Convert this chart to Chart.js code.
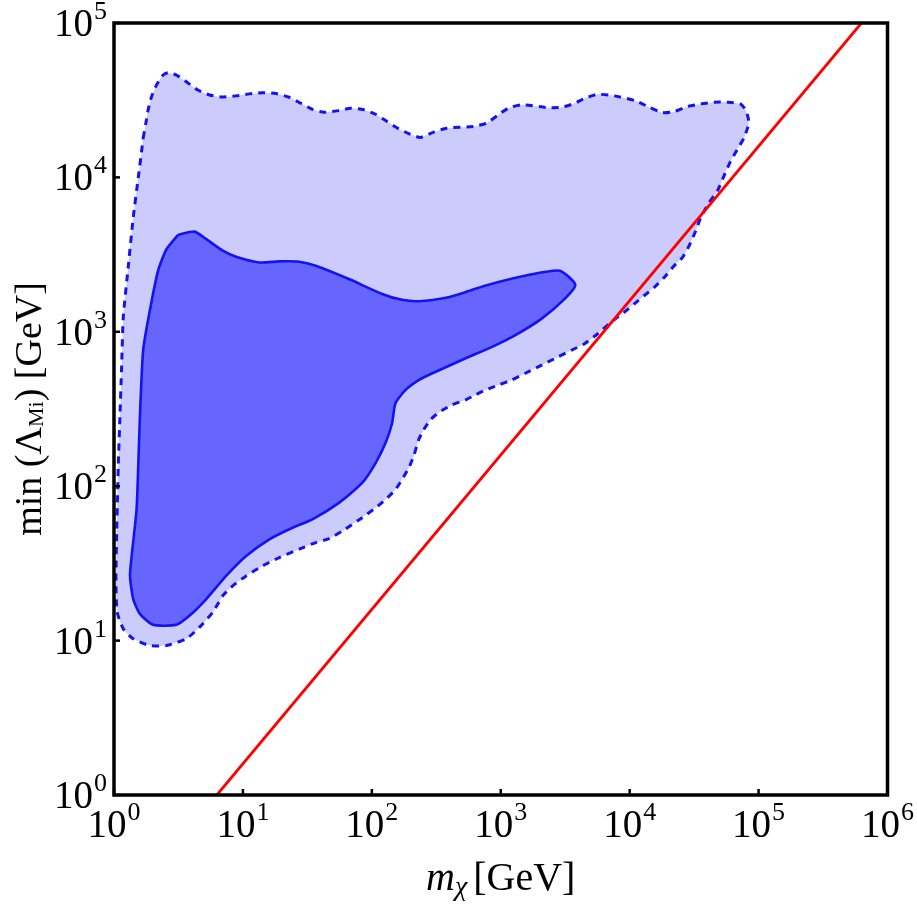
<!DOCTYPE html>
<html>
<head>
<meta charset="utf-8">
<script src="https://cdn.jsdelivr.net/npm/chart.js@4.4.1/dist/chart.umd.min.js"></script>
<style>
  html, body { margin: 0; padding: 0; background: #fff; }
  #wrap { width: 917px; height: 908px; }
</style>
</head>
<body>
<div id="wrap"><canvas id="chart"></canvas></div>
<script>
// Decade ticks (powers of ten) on each axis
const xTickPowers = [0, 1, 2, 3, 4, 5, 6];
const yTickPowers = [0, 1, 2, 3, 4, 5];

// Red line: Lambda = m / (2 pi), read at its two ends
const redMass = [6.28, 628000];
const redLambda = [1, 100000];

// Outer (95%) contour, log10 values
const outerLogMass = [
  0.226,0.247,0.265,0.291,0.330,0.381,0.419,0.484,0.561,0.651,
  0.741,0.844,0.947,1.050,1.153,1.256,1.359,1.449,1.539,1.629,
  1.745,1.836,1.938,2.029,2.118,2.208,2.286,2.376,2.479,2.581,
  2.788,2.890,2.981,3.058,3.161,3.367,3.470,3.573,3.650,3.753,
  3.882,4.049,4.152,4.255,4.345,4.448,4.551,4.654,4.757,4.859,
  4.906,4.924,4.886,4.834,4.782,4.731,4.680,4.615,4.551,4.512,
  4.461,4.409,4.345,4.268,4.191,4.114,4.036,3.959,3.856,3.753,
  3.650,3.547,3.444,3.290,3.187,3.083,2.981,2.878,2.801,2.724,
  2.620,2.517,2.453,2.402,2.363,2.324,2.286,2.234,2.183,2.106,
  2.029,1.925,1.771,1.668,1.565,1.436,1.282,1.153,1.025,0.921,
  0.844,0.767,0.664,0.561,0.407,0.278,0.149,0.072,0.025,0.015,
  0.021,0.033,0.046,0.059,0.072,0.110,0.149,0.188,0.214,0.226
];
const outerLogLambda = [
  4.255,4.351,4.438,4.523,4.599,4.663,4.678,4.663,4.620,4.566,
  4.534,4.521,4.528,4.541,4.549,4.543,4.519,4.480,4.441,4.422,
  4.433,4.448,4.438,4.409,4.362,4.315,4.284,4.259,4.293,4.319,
  4.330,4.351,4.405,4.448,4.470,4.452,4.454,4.480,4.512,4.538,
  4.528,4.495,4.454,4.420,4.427,4.459,4.476,4.487,4.487,4.476,
  4.427,4.351,4.255,4.180,4.104,4.008,3.911,3.836,3.739,3.653,
  3.557,3.481,3.428,3.352,3.288,3.235,3.181,3.127,3.063,2.988,
  2.923,2.880,2.837,2.773,2.730,2.687,2.655,2.622,2.590,2.558,
  2.526,2.476,2.429,2.365,2.300,2.193,2.118,2.043,1.978,1.914,
  1.860,1.796,1.709,1.660,1.635,1.592,1.538,1.484,1.419,1.355,
  1.291,1.184,1.087,1.012,0.968,0.968,1.012,1.076,1.184,1.377,
  1.699,2.128,2.450,2.773,3.095,3.417,3.739,3.997,4.169,4.255
];

// Inner (68%) contour, log10 values
const innerLogMass = [
  0.497,0.625,0.716,0.844,0.947,1.127,1.282,1.436,1.565,1.822,
  2.080,2.234,2.363,2.595,2.724,2.878,3.187,3.457,3.578,3.496,
  3.315,3.110,2.929,2.724,2.466,2.363,2.260,2.183,2.157,2.106,
  2.029,1.925,1.745,1.539,1.385,1.205,1.025,0.870,0.716,0.587,
  0.484,0.303,0.201,0.149,0.124,0.137,0.175,0.188,0.201,0.226,
  0.278,0.342,0.407,0.497
];
const innerLogLambda = [
  3.628,3.649,3.600,3.525,3.486,3.449,3.456,3.454,3.428,3.342,
  3.245,3.207,3.198,3.224,3.256,3.299,3.363,3.396,3.305,3.213,
  3.084,2.977,2.901,2.827,2.730,2.687,2.622,2.537,2.408,2.279,
  2.150,2.021,1.892,1.785,1.731,1.656,1.548,1.419,1.269,1.162,
  1.102,1.102,1.173,1.269,1.419,1.548,1.849,2.128,2.450,2.880,
  3.138,3.396,3.535,3.628
];

const toPoints = (xs, ys) => xs.map((v, i) => ({ x: v, y: ys[i] }));
const fromLog = (xs, ys) => xs.map((v, i) => ({ x: 10 ** v, y: 10 ** ys[i] }));

const serif = '"Liberation Serif", "Times New Roman", serif';

// "10" with a raised exponent
function drawPower(ctx, p, xPos, baseline, align) {
  ctx.font = `39px ${serif}`;
  const w1 = ctx.measureText("10").width;
  ctx.font = `26px ${serif}`;
  const w2 = ctx.measureText(String(p)).width;
  const total = w1 + w2 + 1;
  const start = align === "center" ? xPos - total / 2 : xPos - total;
  ctx.textAlign = "left";
  ctx.textBaseline = "alphabetic";
  ctx.font = `39px ${serif}`;
  ctx.fillText("10", start, baseline);
  ctx.font = `26px ${serif}`;
  ctx.fillText(String(p), start + w1 + 1, baseline - 17);
}

const framePlugin = {
  id: "frame",
  afterDraw(chart) {
    const { ctx, chartArea: a, scales: { x, y } } = chart;
    ctx.save();
    ctx.fillStyle = "#000";
    ctx.strokeStyle = "#000";

    // inward ticks + labels
    ctx.lineWidth = 2.5;
    xTickPowers.forEach(p => {
      const px = x.getPixelForValue(10 ** p);
      ctx.beginPath();
      ctx.moveTo(px, a.bottom);
      ctx.lineTo(px, a.bottom - 6);
      ctx.stroke();
      drawPower(ctx, p, px, a.bottom + 42, "center");
    });
    yTickPowers.forEach(p => {
      const py = y.getPixelForValue(10 ** p);
      ctx.beginPath();
      ctx.moveTo(a.left, py);
      ctx.lineTo(a.left + 6, py);
      ctx.stroke();
      drawPower(ctx, p, a.left - 7, py + 13, "right");
    });

    // frame
    ctx.lineWidth = 3.5;
    ctx.strokeRect(a.left, a.top, a.right - a.left, a.bottom - a.top);

    // x title: m_chi [GeV]
    ctx.textAlign = "left";
    ctx.textBaseline = "alphabetic";
    const xParts = [
      { t: "m", f: `italic 40px ${serif}`, dy: 0 },
      { t: "\u03C7", f: `italic 28px ${serif}`, dy: 5 },
      { t: "[GeV]", f: `40px ${serif}`, dy: 0, gap: 6 }
    ];
    drawParts(ctx, xParts, (a.left + a.right) / 2, 890);

    // y title: min (Lambda_Mi) [GeV], rotated
    ctx.translate(41, (a.top + a.bottom) / 2);
    ctx.rotate(-Math.PI / 2);
    const yParts = [
      { t: "min (\u039B", f: `38px ${serif}`, dy: 0 },
      { t: "Mi", f: `22px ${serif}`, dy: 2 },
      { t: ") [GeV]", f: `38px ${serif}`, dy: 0 }
    ];
    drawParts(ctx, yParts, 0, 0);
    ctx.restore();
  }
};

function drawParts(ctx, parts, cx, baseline) {
  let total = 0;
  parts.forEach(p => {
    ctx.font = p.f;
    p.w = ctx.measureText(p.t).width + (p.gap || 0);
    total += p.w;
  });
  let xPos = cx - total / 2;
  parts.forEach(p => {
    ctx.font = p.f;
    ctx.fillText(p.t, xPos + (p.gap || 0), baseline + p.dy);
    xPos += p.w;
  });
}

new Chart(document.getElementById("chart"), {
  type: "scatter",
  data: {
    datasets: [
      {
        label: "m / 2\u03C0",
        data: toPoints(redMass, redLambda),
        showLine: true,
        borderColor: "#ff0000",
        borderWidth: 2.8,
        pointRadius: 0,
        fill: false
      },
      {
        label: "inner",
        data: fromLog(innerLogMass, innerLogLambda),
        showLine: true,
        borderColor: "#1212f5",
        borderWidth: 2.6,
        backgroundColor: "#6666ff",
        pointRadius: 0,
        tension: 0.2,
        fill: "shape"
      },
      {
        label: "outer",
        data: fromLog(outerLogMass, outerLogLambda),
        showLine: true,
        borderColor: "#1212f5",
        borderWidth: 3,
        borderDash: [7, 6],
        backgroundColor: "#ccccfc",
        pointRadius: 0,
        tension: 0.2,
        fill: "shape"
      }
    ]
  },
  options: {
    responsive: true,
    maintainAspectRatio: false,
    animation: false,
    layout: { padding: { left: 114, right: 29.5, top: 23, bottom: 113 } },
    plugins: { legend: { display: false }, tooltip: { enabled: false } },
    scales: {
      x: { type: "logarithmic", min: 1, max: 1e6, display: false },
      y: { type: "logarithmic", min: 1, max: 1e5, display: false }
    }
  },
  plugins: [framePlugin]
});
</script>
</body>
</html>
